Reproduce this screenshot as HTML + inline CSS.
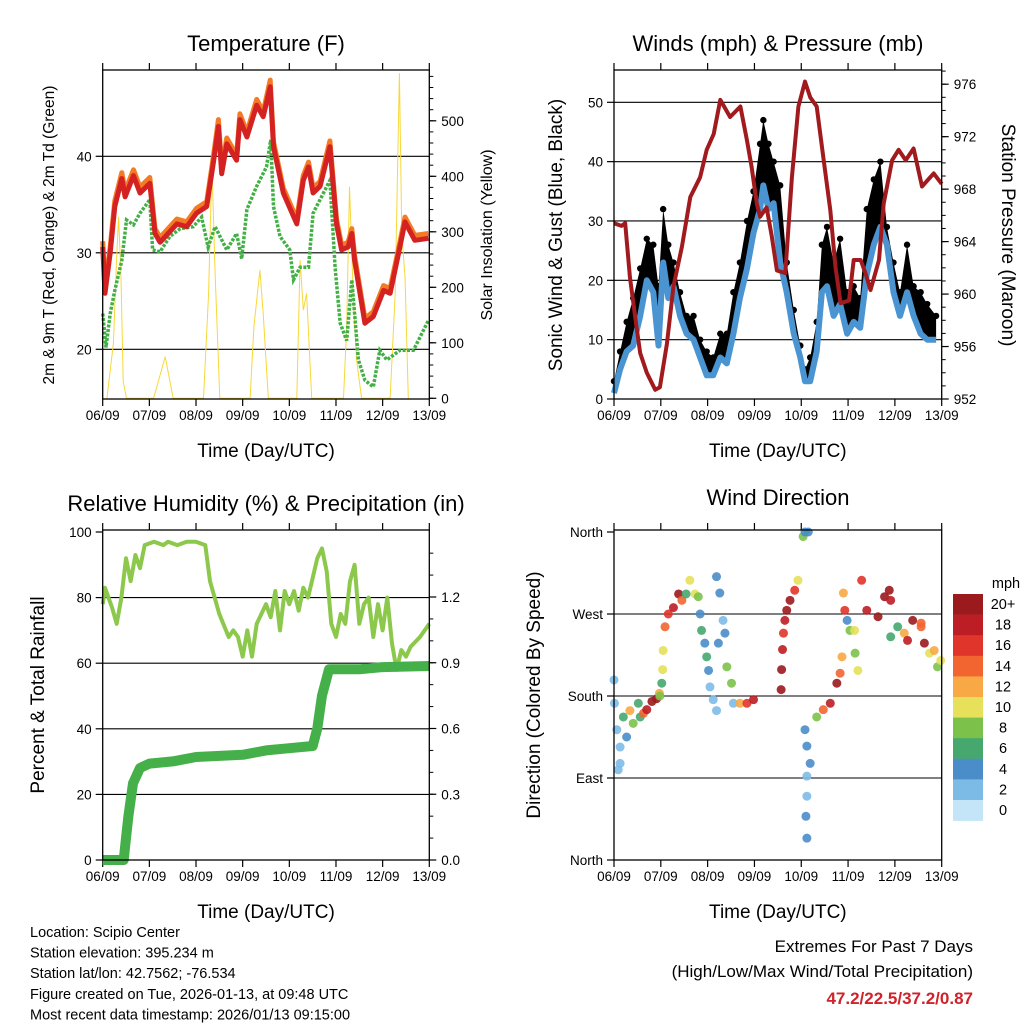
<!DOCTYPE html>
<html><head><meta charset="utf-8"><style>
html,body{margin:0;padding:0;background:#fff;}
svg{display:block;font-family:"Liberation Sans",sans-serif;}
</style></head><body>
<svg id="c" width="1024" height="1024" viewBox="0 0 1024 1024"></svg>
<script>
// ---------- Temperature panel data ----------
const tempTimes = [0,0.05,0.16,0.26,0.41,0.48,0.66,0.80,1.01,1.12,1.23,1.59,1.80,2.01,2.23,2.37,2.48,2.55,2.66,2.87,2.94,3.09,3.30,3.44,3.59,3.66,3.87,4.16,4.30,4.41,4.51,4.66,4.87,5.01,5.12,5.26,5.34,5.40,5.62,5.80,6.02,6.16,6.37,6.48,6.69,6.98];
const tempRed = [30.6,25.8,30.0,34.8,37.7,35.8,38.0,36.2,37.2,32.0,31.1,33.0,32.7,34.1,34.8,39.3,43.1,38.2,41.3,39.6,43.8,42.0,45.3,44.1,47.2,41.0,36.2,33.0,37.5,38.9,36.2,36.9,41.0,33.0,30.3,30.6,32.0,29.2,22.7,23.4,26.1,25.8,30.6,33.2,31.3,31.5];
const tempOrange = [31.2,26.4,30.6,35.4,38.3,36.4,38.6,36.8,37.8,32.5,31.6,33.5,33.2,34.6,35.3,39.9,43.8,38.8,41.9,40.1,44.4,42.5,45.9,44.6,47.9,41.5,36.7,33.5,38.0,39.4,36.7,37.4,41.6,33.5,30.8,31.1,32.5,29.7,23.2,23.9,26.6,26.3,31.1,33.7,31.8,32.0];
const dewTimes = [0,0.07,0.16,0.26,0.41,0.51,0.66,0.80,1.01,1.07,1.23,1.44,1.66,1.94,2.12,2.26,2.41,2.66,2.87,2.98,3.09,3.30,3.51,3.60,3.66,3.80,4.01,4.09,4.23,4.41,4.51,4.87,4.98,5.09,5.23,5.34,5.48,5.62,5.80,5.94,6.09,6.37,6.66,6.98];
const dewVals = [23.7,20.2,23.7,26.1,29.2,33.4,32.9,34.1,35.5,30.3,30.1,31.7,32.5,32.7,33.7,30.6,32.7,30.3,32.0,29.4,34.5,36.9,38.9,41.7,34.8,31.7,30.3,27.2,28.5,28.5,34.1,37.5,28.5,22.7,20.9,27.2,18.9,16.8,16.1,19.9,18.9,19.9,19.9,23.0];
const solarTimes = [0.09,0.23,0.30,0.34,0.39,0.44,0.51,1.09,1.34,1.51,2.16,2.27,2.34,2.41,2.51,3.16,3.24,3.37,3.44,3.55,4.16,4.23,4.30,4.37,4.48,5.16,5.23,5.29,5.37,5.44,5.55,6.16,6.27,6.36,6.41,6.48,6.55];
const solarVals = [0,99,255,327,225,30,0,0,75,0,0,189,423,225,0,0,129,231,153,0,0,249,159,189,0,0,129,381,189,70,0,0,189,586,297,219,0];
const tempTicks = [20,30,40];
const solarTicks = [0,100,200,300,400,500];
// ---------- Winds panel data ----------
const windTimes = [0,0.13,0.27,0.41,0.56,0.70,0.84,0.95,1.05,1.16,1.27,1.41,1.55,1.70,1.84,1.98,2.12,2.27,2.41,2.55,2.69,2.84,2.98,3.12,3.19,3.30,3.41,3.55,3.69,3.84,3.98,4.08,4.19,4.33,4.44,4.55,4.69,4.83,4.98,5.12,5.26,5.40,5.55,5.69,5.83,5.97,6.11,6.26,6.40,6.55,6.69,6.88];
const windVals = [1,5,8,9,14,20,18,9,23,17,19,14,11,10,7,4,4,7,6,11,17,22,28,32,36,32,33,23,18,11,7,3,3,8,18,19,14,16,11,13,12,21,26,29,26,18,14,18,14,11,10,10];
const gustVals = [3,8,13,17,22,27,26,19,32,26,23,18,14,14,10,8,7,11,11,18,23,30,35,43,47,43,40,36,23,15,9,5,7,13,26,29,23,27,18,19,17,32,37,40,29,23,18,26,19,18,16,14];
const presTimes = [0,0.16,0.24,0.34,0.48,0.56,0.70,0.88,0.98,1.13,1.27,1.45,1.63,1.84,1.98,2.13,2.27,2.48,2.70,2.84,2.94,3.05,3.12,3.26,3.37,3.48,3.66,3.80,3.94,4.08,4.19,4.33,4.48,4.62,4.73,4.84,5.02,5.12,5.27,5.37,5.48,5.66,5.76,5.94,6.08,6.23,6.40,6.58,6.83,7.0];
const presVals = [965.4,965.2,965.4,961.3,957.5,955.5,954.0,952.7,952.9,956.2,960.6,963.6,967.4,968.9,971.0,972.2,974.8,973.5,974.3,971.7,969.7,966.9,965.9,966.6,964.4,961.8,961.6,968.9,974.3,976.2,975.0,974.3,970.2,966.4,962.1,959.3,959.5,962.6,962.6,961.6,960.3,962.6,966.9,970.2,971.0,970.2,971.1,968.2,969.2,968.4,967.4];
const windTicks = [0,10,20,30,40,50];
const presTicks = [952,956,960,964,968,972,976];
// ---------- RH panel data ----------
const rhTimes = [0,0.05,0.2,0.3,0.4,0.5,0.6,0.7,0.8,0.9,1.1,1.3,1.4,1.6,1.8,2.0,2.2,2.3,2.5,2.7,2.8,2.9,3.0,3.1,3.2,3.3,3.5,3.6,3.7,3.8,3.9,4.0,4.1,4.2,4.3,4.4,4.5,4.6,4.7,4.8,4.9,5.0,5.1,5.2,5.3,5.4,5.5,5.6,5.7,5.8,5.9,6.0,6.1,6.2,6.3,6.4,6.5,6.6,6.8,7.0];
const rhVals = [78,83,77,72,80,92,85,93,89,96,97,96,97,96,97,97,96,85,75,68,70,68,62,70,62,72,78,74,82,70,82,78,82,76,83,80,86,92,95,88,72,68,75,72,85,90,72,78,80,68,78,70,80,66,58,64,62,65,68,72];
const precipTimes = [0,0.45,0.5,0.55,0.65,0.8,1.0,1.5,2.0,3.0,3.5,4.0,4.5,4.6,4.7,4.85,5.5,6.0,7.0];
const precipVals = [0,0,0.1,0.2,0.35,0.42,0.44,0.45,0.47,0.48,0.5,0.51,0.52,0.6,0.75,0.87,0.87,0.88,0.885];
const rhTicks = [0,20,40,60,80,100];
const precipTicks = [0.0,0.3,0.6,0.9,1.2];
// ---------- Wind direction data ----------
const dirTimes = [0.0,0.01,0.06,0.13,0.13,0.09,0.20,0.27,0.34,0.41,0.52,0.56,0.63,0.70,0.81,0.91,0.97,0.98,1.02,1.04,1.05,1.09,1.16,1.27,1.38,1.45,1.54,1.62,1.73,1.80,1.84,1.87,1.94,1.98,2.02,2.05,2.12,2.19,2.23,2.19,2.26,2.33,2.37,2.41,2.51,2.55,2.69,2.84,2.98,3.57,3.58,3.60,3.62,3.65,3.69,3.76,3.86,3.93,4.04,4.08,4.15,4.08,4.12,4.19,4.12,4.12,4.10,4.12,4.33,4.47,4.62,4.76,4.83,4.87,4.90,4.93,4.98,5.04,5.14,5.15,5.21,5.29,5.40,5.64,5.78,5.88,5.91,5.91,6.06,6.20,6.27,6.38,6.56,6.56,6.63,6.74,6.84,6.91,6.98];
const dirVals = [197.6,172,143,124,106,99,157,135,164,150,172,157,161,165,174,177,183,180,194,209,230,256,270,277,292,285,292,307,292,289,270,252,238,223,208,190,176,164,238,311,293,263,249,212,194,172,172,172,176,187,209,231,249,263,274,285,296,307,355,377,380,143,125,106,92,70,48,24,157,165,172,194,205,223,293,274,263,252,252,227,208,307,274,267,289,296,285,245,256,249,241,263,260,256,238,227,230,212,219];
const dirSpeeds = [2,2,2,3,2,2,6,4,12,8,6,6,14,18,20,20,12,8,6,10,10,14,16,18,20,14,6,10,10,8,4,6,4,6,4,3,2,2,4,4,4,3,4,8,8,3,12,16,18,20,20,18,16,18,20,20,16,10,8,4,4,4,4,4,2,2,4,4,8,14,18,20,14,12,12,16,4,8,10,8,10,16,18,20,20,20,18,6,6,12,18,20,14,14,20,10,12,8,10];
const dirTickVals = [0,90,180,270,360];
const dirTickLabels = ["North","East","South","West","North"];
const dayLabels = ["06/09","07/09","08/09","09/09","10/09","11/09","12/09","13/09"];
const speedColors = ["#c3e5f7","#7dbbe7","#4a8dc8","#46a86e","#7cc24a","#e6e05a","#f8a845","#f26530","#e0352a","#bd1d24","#9b1a1e"];
const speedLabels = ["0","2","4","6","8","10","12","14","16","18","20+"];

const NS = "http://www.w3.org/2000/svg";
const svg = document.getElementById("c");
function el(tag, attrs, parent) {
  const e = document.createElementNS(NS, tag);
  for (const k in attrs) e.setAttribute(k, attrs[k]);
  (parent || svg).appendChild(e);
  return e;
}
function txt(x, y, s, size, anchor, parent, extra) {
  const t = el("text", Object.assign({x: x, y: y, "font-size": size, "text-anchor": anchor || "middle", fill: "#000"}, extra || {}), parent);
  t.textContent = s;
  return t;
}
function scale(d0, d1, r0, r1) { return v => r0 + (v - d0) / (d1 - d0) * (r1 - r0); }
function pathFrom(xs, ys, fx, fy) {
  return xs.map((t, i) => (i ? "L" : "M") + fx(t).toFixed(1) + "," + fy(ys[i]).toFixed(1)).join("");
}

function frame(g, X0, Y0, X1, Y1, name) {
  const r = el("rect", {x: X0, y: Y0, width: X1 - X0, height: Y1 - Y0, fill: "none", stroke: "#000", "stroke-width": 1.3}, g);
  
  
}
function xAxis(g, X0, X1, Y0, Y1) {
  const fx = scale(0, 7, X0, X1);
  dayLabels.forEach((d, i) => {
    el("line", {x1: fx(i), x2: fx(i), y1: Y1, y2: Y1 + 7, stroke: "#000", "stroke-width": 1.2}, g);
    el("line", {x1: fx(i), x2: fx(i), y1: Y0, y2: Y0 - 7, stroke: "#000", "stroke-width": 1.2}, g);
    const t = txt(fx(i), Y1 + 21, d, 13.5, "middle", g);
    
    
  });
  const tt = txt((X0 + X1) / 2, Y1 + 58, "Time (Day/UTC)", 19, "middle", g);
  
  
  return fx;
}
function leftTicks(g, X0, X1, vals, labels, fy, grid) {
  vals.forEach((v, i) => {
    if (grid) el("line", {x1: X0, x2: X1, y1: fy(v), y2: fy(v), stroke: "#000", "stroke-width": 1.1}, g);
    el("line", {x1: X0 - 7, x2: X0, y1: fy(v), y2: fy(v), stroke: "#000", "stroke-width": 1.2}, g);
    const t = txt(X0 - 11, fy(v) + 5, labels[i], 13.5, "end", g);
    
    
  });
}
function rightTicks(g, X1, vals, labels, fy, minorVals) {
  (minorVals || []).forEach(v => el("line", {x1: X1, x2: X1 + 4, y1: fy(v), y2: fy(v), stroke: "#000", "stroke-width": 1}, g));
  vals.forEach((v, i) => {
    el("line", {x1: X1, x2: X1 + 7, y1: fy(v), y2: fy(v), stroke: "#000", "stroke-width": 1.2}, g);
    const t = txt(X1 + 12, fy(v) + 5, labels[i], 13.5, "start", g);
    
    
  });
}
function vlabel(x, y, s, size, rot, g, name) {
  const t = txt(x, y, s, size, "middle", g, {transform: "rotate(" + rot + " " + x + " " + y + ")"});
  
  
}
function title(x, y, s, g, name) {
  const t = txt(x, y, s, 22, "middle", g);
  
  
}

// ===== Panel 1: Temperature =====
(function () {
  const g = el("g", {});
  
  
  const X0 = 102.7, X1 = 429.3, Y0 = 70, Y1 = 399;
  const fy = scale(20, 40, 349.3, 156.3);
  const fs = scale(0, 100, 398.3, 342.8);
  const fx = xAxis(g, X0, X1, Y0, Y1);
  leftTicks(g, X0, X1, tempTicks, tempTicks.map(String), fy, true);
  const minor = []; for (let v = 0; v <= 580; v += 20) minor.push(v);
  rightTicks(g, X1, solarTicks, solarTicks.map(String), fs, minor);
  const sol = el("path", {d: pathFrom(solarTimes, solarVals, fx, fs), fill: "none", stroke: "#f7d83a", "stroke-width": 1}, g);
  
  
  const dew = el("path", {d: pathFrom(dewTimes, dewVals, fx, fy), fill: "none", stroke: "#42b045", "stroke-width": 3.5, "stroke-dasharray": "3 1.5"}, g);
  
  
  const or = el("path", {d: pathFrom(tempTimes, tempOrange, fx, fy), fill: "none", stroke: "#f47b25", "stroke-width": 5, "stroke-linejoin": "round"}, g);
  
  
  const rd = el("path", {d: pathFrom(tempTimes, tempRed, fx, fy), fill: "none", stroke: "#d42222", "stroke-width": 5, "stroke-linejoin": "round"}, g);
  
  
  frame(g, X0, Y0, X1, Y1, "temperature-plot-frame");
  title(266, 51, "Temperature (F)", g, "temperature-title");
  vlabel(54, 235, "2m & 9m T (Red, Orange) & 2m Td (Green)", 15.5, -90, g, "temperature-y-axis-title");
  vlabel(492, 235, "Solar Insolation (Yellow)", 16, -90, g, "solar-y-axis-title");
})();

// ===== Panel 2: Winds & Pressure =====
(function () {
  const g = el("g", {});
  
  
  const X0 = 614, X1 = 941.7, Y0 = 70, Y1 = 399;
  const fy = scale(0, 50, 399, 102.3);
  const fp = scale(952, 976, 399, 84.2);
  const fx = xAxis(g, X0, X1, Y0, Y1);
  leftTicks(g, X0, X1, windTicks.slice(1), windTicks.slice(1).map(String), fy, true);
  leftTicks(g, X0, X1, [0], ["0"], fy, false);
  const pm = []; for (let v = 953; v <= 977; v += 1) pm.push(v);
  rightTicks(g, X1, presTicks, presTicks.map(String), fp, pm);
  // gust band between wind and gust
  const top = windTimes.map((t, i) => fx(t).toFixed(1) + "," + fy(gustVals[i]).toFixed(1));
  const bot = windTimes.map((t, i) => fx(t).toFixed(1) + "," + fy(windVals[i]).toFixed(1)).reverse();
  const band = el("polygon", {points: top.concat(bot).join(" "), fill: "#000"}, g);
  
  
  windTimes.forEach((t, i) => {
    const c = el("circle", {cx: fx(t), cy: fy(gustVals[i]), r: 3.2, fill: "#000"}, g);
    
    
  });
  const wl = el("path", {d: pathFrom(windTimes, windVals, fx, fy), fill: "none", stroke: "#4b94d2", "stroke-width": 6, "stroke-linejoin": "round"}, g);
  
  
  const pl = el("path", {d: pathFrom(presTimes, presVals, fx, fp), fill: "none", stroke: "#a11a1e", "stroke-width": 4, "stroke-linejoin": "round"}, g);
  
  
  frame(g, X0, Y0, X1, Y1, "winds-plot-frame");
  title(778, 51, "Winds (mph) & Pressure (mb)", g, "winds-title");
  vlabel(562, 235, "Sonic Wind & Gust (Blue, Black)", 19, -90, g, "wind-y-axis-title");
  vlabel(1002, 235, "Station Pressure (Maroon)", 19, 90, g, "pressure-y-axis-title");
})();

// ===== Panel 3: RH & Precip =====
(function () {
  const g = el("g", {});
  
  
  const X0 = 102.7, X1 = 429.3, Y0 = 530, Y1 = 860;
  const fy = scale(0, 100, 860, 532);
  const fp = scale(0, 1.2, 860, 597);
  const fx = xAxis(g, X0, X1, Y0, Y1);
  leftTicks(g, X0, X1, rhTicks.slice(1, 5), rhTicks.slice(1, 5).map(String), fy, true);
  leftTicks(g, X0, X1, [0, 100], ["0", "100"], fy, false);
  const pm = []; for (let v = 0.1; v <= 1.5; v += 0.1) pm.push(v);
  rightTicks(g, X1, precipTicks, precipTicks.map(v => v.toFixed(1)), fp, pm);
  const rh = el("path", {d: pathFrom(rhTimes, rhVals, fx, fy), fill: "none", stroke: "#8cc84b", "stroke-width": 4, "stroke-linejoin": "round"}, g);
  
  
  const pr = el("path", {d: pathFrom(precipTimes, precipVals, fx, fp), fill: "none", stroke: "#45b049", "stroke-width": 10, "stroke-linejoin": "round"}, g);
  
  
  frame(g, X0, Y0, X1, Y1, "humidity-plot-frame");
  title(266, 511, "Relative Humidity (%) & Precipitation (in)", g, "humidity-title");
  vlabel(44, 695, "Percent & Total Rainfall", 19, -90, g, "humidity-y-axis-title");
})();

// ===== Panel 4: Wind Direction =====
(function () {
  const g = el("g", {});
  
  
  const X0 = 614, X1 = 941.7, Y0 = 530, Y1 = 860;
  const fy = scale(0, 360, 860, 532);
  const fx = xAxis(g, X0, X1, Y0, Y1);
  leftTicks(g, X0, X1, dirTickVals.slice(1, 4), dirTickLabels.slice(1, 4), fy, true);
  leftTicks(g, X0, X1, [0, 360], [dirTickLabels[0], dirTickLabels[4]], fy, false);
  dirTimes.forEach((t, i) => {
    const ci = Math.min(10, Math.floor(dirSpeeds[i] / 2));
    const c = el("circle", {cx: fx(t), cy: fy(Math.min(360, dirVals[i])), r: 4.5, fill: speedColors[ci], "fill-opacity": 0.9}, g);
    
    
  });
  frame(g, X0, Y0, X1, Y1, "direction-plot-frame");
  title(778, 505, "Wind Direction", g, "wind-direction-title");
  vlabel(540, 695, "Direction (Colored By Speed)", 19, -90, g, "direction-y-axis-title");
  // colorbar
  const cb = el("g", {}, g);
  
  
  const bh = 20.6, top = 594;
  for (let k = 0; k < 11; k++) {
    const idx = 10 - k;
    const r = el("rect", {x: 953, y: top + k * bh, width: 30, height: bh + 0.3, fill: speedColors[idx]}, cb);
    
    
    const t = txt(1003, top + k * bh + 15, speedLabels[idx], 14.5, "middle", cb);
    
    
  }
  const u = txt(1006, 588, "mph", 14.5, "middle", cb);
  
  
})();

// ===== Footer text =====
(function () {
  const g = el("g", {});
  
  
  const lines = ["Location: Scipio Center", "Station elevation: 395.234 m", "Station lat/lon: 42.7562; -76.534", "Figure created on Tue, 2026-01-13, at 09:48 UTC", "Most recent data timestamp: 2026/01/13 09:15:00"];
  lines.forEach((s, i) => {
    const t = txt(30, 937 + i * 20.6, s, 14.5, "start", g);
    
    
  });
  const g2 = el("g", {});
  
  
  const a = txt(973, 952, "Extremes For Past 7 Days", 17, "end", g2);
  
  
  const b = txt(973, 977, "(High/Low/Max Wind/Total Precipitation)", 17, "end", g2);
  
  
  const c = txt(973, 1004, "47.2/22.5/37.2/0.87", 17, "end", g2, {fill: "#d0222a", "font-weight": "bold"});
  
  
})();
</script>
</body></html>
